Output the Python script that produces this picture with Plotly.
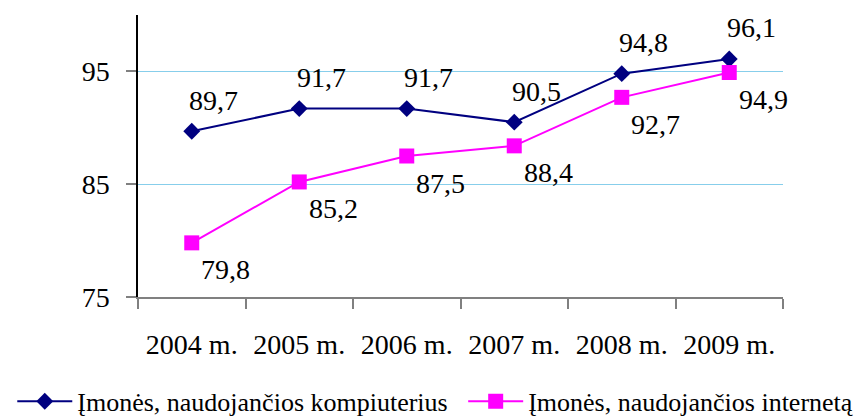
import plotly.graph_objects as go

categories = ["2004 m.", "2005 m.", "2006 m.", "2007 m.", "2008 m.", "2009 m."]
computers = [89.7, 91.7, 91.7, 90.5, 94.8, 96.1]
internet = [79.8, 85.2, 87.5, 88.4, 92.7, 94.9]
name_computers = "Įmonės, naudojančios kompiuterius"
name_internet = "Įmonės, naudojančios internetą"
y_ticks = [75, 85, 95]

FONT = "Liberation Serif"
NAVY = "#000080"
MAGENTA = "#FF00FF"

def fmt(v):
    return f"{v:.1f}".replace(".", ",")

fig = go.Figure()
fig.add_trace(go.Scatter(
    x=categories, y=computers, name=name_computers, mode="lines+markers",
    line=dict(color=NAVY, width=2),
    marker=dict(symbol="diamond", size=13, color=NAVY),
    legend="legend",
))
fig.add_trace(go.Scatter(
    x=categories, y=internet, name=name_internet, mode="lines+markers",
    line=dict(color=MAGENTA, width=2),
    marker=dict(symbol="square", size=15, color=MAGENTA),
    legend="legend2",
))

annotations = []
for c, v in zip(categories, computers):
    annotations.append(dict(x=c, y=v, text=fmt(v), showarrow=False,
                            xshift=22, yshift=31,
                            font=dict(family=FONT, size=28, color="black")))
for c, v in zip(categories, internet):
    annotations.append(dict(x=c, y=v, text=fmt(v), showarrow=False,
                            xshift=34, yshift=-27,
                            font=dict(family=FONT, size=28, color="black")))

legend_common = dict(orientation="h", xref="container", yref="container",
                     y=0.043, xanchor="left", yanchor="middle",
                     font=dict(family=FONT, size=26, color="black"),
                     itemwidth=55, bgcolor="rgba(0,0,0,0)")

# page body adds an 8px margin, so the figure is sized/margined to compensate
fig.update_layout(
    width=854, height=411,
    margin=dict(l=129.5, r=79, t=7, b=122),
    paper_bgcolor="white", plot_bgcolor="white",
    font=dict(family=FONT, color="black"),
    annotations=annotations,
    showlegend=True,
    legend=dict(x=0.005, **legend_common),
    legend2=dict(x=0.533, **legend_common),
    xaxis=dict(
        type="category", range=[-0.5, 5.5],
        showline=True, linecolor="#808080", linewidth=1.5,
        ticks="outside", tickson="boundaries", ticklen=10, tickcolor="#808080",
        tickwidth=1.5,
        showgrid=False, ticklabelstandoff=22,
        tickfont=dict(family=FONT, size=28, color="black"),
    ),
    yaxis=dict(
        range=[75, 100], tickvals=y_ticks,
        showline=True, linecolor="black", linewidth=1.5,
        ticks="outside", ticklen=10, tickcolor="#808080", tickwidth=1.5,
        showgrid=True, gridcolor="#87CEEB", gridwidth=1,
        zeroline=False, ticklabelstandoff=11,
        tickfont=dict(family=FONT, size=28, color="black"),
    ),
)

fig.write_html("out.html")
